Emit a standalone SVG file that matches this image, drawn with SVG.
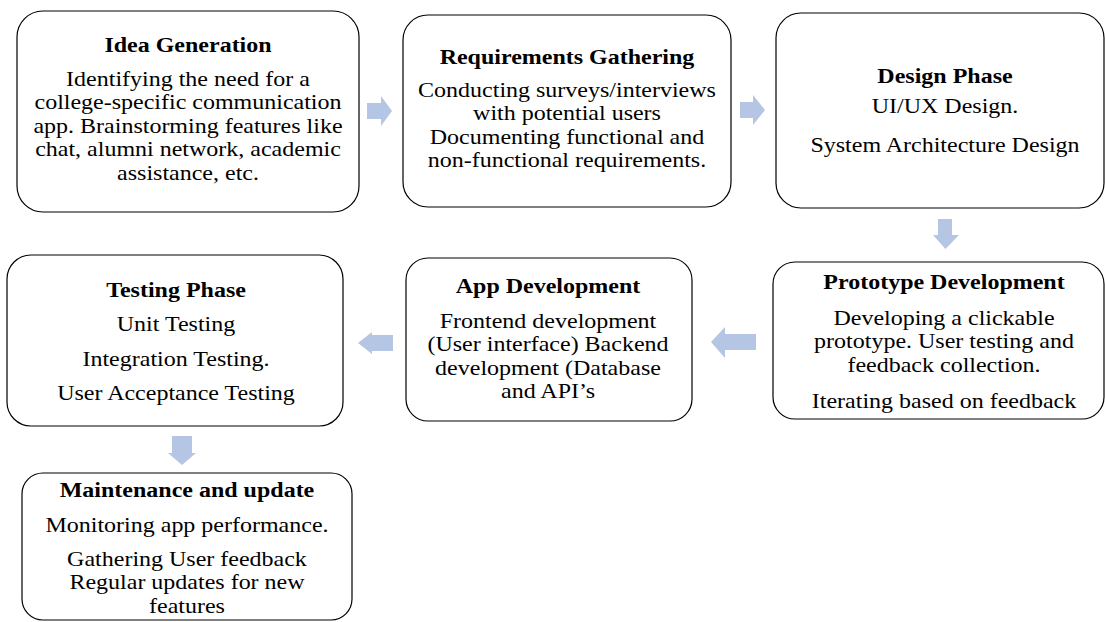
<svg xmlns="http://www.w3.org/2000/svg" width="1105" height="622" viewBox="0 0 1105 622">
<style>
.box{fill:#fff;stroke:#000;stroke-width:1.2}
.t{font-family:"Liberation Serif","Times New Roman",serif;font-size:20px;fill:#000;text-anchor:middle}
.b{font-weight:bold}
.arr{fill:#b4c6e3}
</style>
<rect width="1105" height="622" fill="#fff"/>
<g id="connectors">
<polygon class="arr" points="367,103 381,103 381,96 392,111 381,126 381,119 367,119"/>
<polygon class="arr" points="740,102 753,102 753,95 765,110 753,125 753,118 740,118"/>
<polygon class="arr" points="938,219 952,219 952,235 959,235 945.5,249 933,235 938,235"/>
<polygon class="arr" points="756,334 725,334 725,327 711,342 725,358 725,350 756,350"/>
<polygon class="arr" points="393,335 372,335 372,332 358,343 372,354 372,351 393,351"/>
<polygon class="arr" points="172,436 192,436 192,453 196,453 182,465 168,453 172,453"/>
</g>
<g id="idea">
<rect class="box" x="17" y="11" width="342" height="201" rx="26"/>
<g transform="translate(188,0) scale(1.2,1)">
<text class="t b" x="0" y="52">Idea Generation</text>
<text class="t" x="0" y="86">Identifying the need for a</text>
<text class="t" x="0" y="109.5">college-specific communication</text>
<text class="t" x="0" y="133">app. Brainstorming features like</text>
<text class="t" x="0" y="156.5">chat, alumni network, academic</text>
<text class="t" x="0" y="180">assistance, etc.</text>
</g>
</g>
<g id="requirements">
<rect class="box" x="403" y="15" width="328" height="192" rx="25"/>
<g transform="translate(567,0) scale(1.2,1)">
<text class="t b" x="0" y="64">Requirements Gathering</text>
<text class="t" x="0" y="97">Conducting surveys/interviews</text>
<text class="t" x="0" y="120.5">with potential users</text>
<text class="t" x="0" y="144">Documenting functional and</text>
<text class="t" x="0" y="167.5">non-functional requirements.</text>
</g>
</g>
<g id="design">
<rect class="box" x="776" y="13" width="328" height="195" rx="25"/>
<g transform="translate(945,0) scale(1.2,1)">
<text class="t b" x="0" y="83">Design Phase</text>
<text class="t" x="0" y="113">UI/UX Design.</text>
<text class="t" x="0" y="152.5">System Architecture Design</text>
</g>
</g>
<g id="prototype">
<rect class="box" x="773" y="262" width="331" height="157" rx="22"/>
<g transform="translate(944,0) scale(1.2,1)">
<text class="t b" x="0" y="289">Prototype Development</text>
<text class="t" x="0" y="325">Developing a clickable</text>
<text class="t" x="0" y="348.5">prototype. User testing and</text>
<text class="t" x="0" y="372">feedback collection.</text>
<text class="t" x="0" y="408">Iterating based on feedback</text>
</g>
</g>
<g id="appdev">
<rect class="box" x="406" y="258" width="286" height="163" rx="22"/>
<g transform="translate(548,0) scale(1.2,1)">
<text class="t b" x="0" y="293">App Development</text>
<text class="t" x="0" y="328">Frontend development</text>
<text class="t" x="0" y="351.5">(User interface) Backend</text>
<text class="t" x="0" y="375">development (Database</text>
<text class="t" x="0" y="398.5">and API’s</text>
</g>
</g>
<g id="testing">
<rect class="box" x="7" y="255" width="336" height="171" rx="24"/>
<g transform="translate(176,0) scale(1.2,1)">
<text class="t b" x="0" y="297">Testing Phase</text>
<text class="t" x="0" y="331">Unit Testing</text>
<text class="t" x="0" y="366">Integration Testing.</text>
<text class="t" x="0" y="400">User Acceptance Testing</text>
</g>
</g>
<g id="maintenance">
<rect class="box" x="22" y="473" width="330" height="147" rx="21"/>
<g transform="translate(187,0) scale(1.2,1)">
<text class="t b" x="0" y="497">Maintenance and update</text>
<text class="t" x="0" y="532">Monitoring app performance.</text>
<text class="t" x="0" y="566">Gathering User feedback</text>
<text class="t" x="0" y="589.5">Regular updates for new</text>
<text class="t" x="0" y="613">features</text>
</g>
</g>
</svg>
